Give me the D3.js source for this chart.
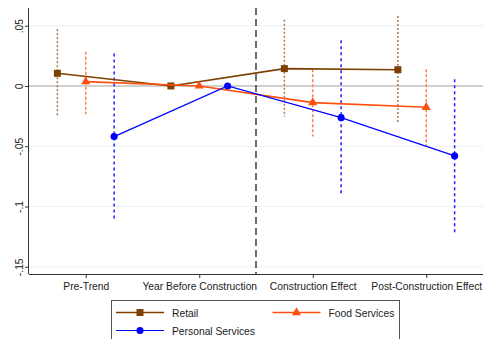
<!DOCTYPE html>
<html><head><meta charset="utf-8">
<script src="https://cdn.jsdelivr.net/npm/d3@7"></script>
<style>body{margin:0;background:#fff}svg{display:block;font-family:"Liberation Sans",Arial,sans-serif}</style>
</head><body><svg id="c" width="484" height="339"></svg>
<script>
const categories = ["Pre-Trend","Year Before Construction","Construction Effect","Post-Construction Effect"];
const seriesNames = ["Retail","Food Services","Personal Services"];
const retailEst = [0.0105, 0, 0.0144, 0.0135];
const retailLo  = [-0.026, null, -0.0254, -0.031];
const retailHi  = [0.047, null, 0.055, 0.058];
const foodEst = [0.0036, 0, -0.0138, -0.0177];
const foodLo  = [-0.0235, null, -0.042, -0.050];
const foodHi  = [0.0285, null, 0.0138, 0.0138];
const persEst = [-0.042, 0, -0.0263, -0.058];
const persLo  = [-0.1106, null, -0.0904, -0.123];
const persHi  = [0.027, null, 0.038, 0.0055];
const yTicks = [0.05, 0, -0.05, -0.1, -0.15];
const yTickLabels = [".05", "0", "-.05", "-.1", "-.15"];

const series = [
  {name: seriesNames[0], est: retailEst, lo: retailLo, hi: retailHi, off: -1, color: "#7f3f00", ci: "#a77b57", dash: "2,2", marker: "square"},
  {name: seriesNames[1], est: foodEst, lo: foodLo, hi: foodHi, off: 0, color: "#ff4f0f", ci: "#ff7f50", dash: "3,2", marker: "triangle"},
  {name: seriesNames[2], est: persEst, lo: persLo, hi: persHi, off: 1, color: "#0000ff", ci: "#1f1fff", dash: "3,3", marker: "circle"}
];

const FS = 10.3;
const svg = d3.select("#c");
const L = 29, R = 483, T = 8, B = 274;
const x = d3.scaleLinear().domain([0.5, 4.5]).range([L, R]);
const y = d3.scaleLinear().domain([-0.156, 0.0647]).range([B, T]);
const step = x(2) - x(1);
const px = (i, off) => x(i + 1) + off * step / 4;

// grid
svg.append("g").selectAll("line").data(yTicks.filter(v => v !== 0)).join("line")
  .attr("x1", L).attr("x2", R).attr("y1", d => y(d)).attr("y2", d => y(d))
  .attr("stroke", "#eaf2f3").attr("stroke-width", 1);
svg.append("line").attr("x1", L).attr("x2", R).attr("y1", y(0)).attr("y2", y(0))
  .attr("stroke", "#c0c0c0").attr("stroke-width", 1.5);

// y axis
const yAxis = d3.axisLeft(y).tickValues(yTicks).tickSize(4).tickFormat((d, i) => yTickLabels[i]);
const gy = svg.append("g").attr("transform", `translate(${L},0)`).call(yAxis);
gy.select(".domain").attr("d", `M-0.5,${T}V${B}`).attr("stroke", "#333");
gy.selectAll(".tick line").attr("stroke", "#333");
gy.selectAll(".tick text").attr("font-size", FS).attr("fill", "#222")
  .attr("text-anchor", "middle").attr("transform", "rotate(-90)")
  .attr("dy", null).attr("x", 0).attr("y", -6.5);

// x axis
const xAxis = d3.axisBottom(x).tickValues([1,2,3,4]).tickSize(4).tickFormat((d) => categories[d - 1]);
const gx = svg.append("g").attr("transform", `translate(0,${B})`).call(xAxis);
gx.select(".domain").attr("d", `M${L},0.5H${R}`).attr("stroke", "#333");
gx.selectAll(".tick line").attr("stroke", "#333");
gx.selectAll(".tick text").attr("font-size", FS).attr("fill", "#222").attr("y", 9);

// vertical dashed line
svg.append("line").attr("x1", x(2.5)).attr("x2", x(2.5)).attr("y1", T).attr("y2", B)
  .attr("stroke", "#222").attr("stroke-width", 1.3).attr("stroke-dasharray", "7,4");

// CIs
series.forEach(s => {
  const g = svg.append("g");
  s.est.forEach((v, i) => {
    if (s.lo[i] === null) return;
    g.append("line").attr("x1", px(i, s.off)).attr("x2", px(i, s.off))
      .attr("y1", y(s.hi[i])).attr("y2", y(s.lo[i]))
      .attr("stroke", s.ci).attr("stroke-width", 1.5).attr("stroke-dasharray", s.dash);
  });
});

const sym = {square: d3.symbolSquare, triangle: d3.symbolTriangle, circle: d3.symbolCircle};
const size = {square: 49, triangle: 36, circle: 40};
// lines + markers
series.forEach(s => {
  const line = d3.line().x((d, i) => px(i, s.off)).y(d => y(d));
  svg.append("path").attr("d", line(s.est)).attr("fill", "none")
    .attr("stroke", s.color).attr("stroke-width", s.marker === "circle" ? 1.2 : 1.6);
  svg.append("g").selectAll("path").data(s.est).join("path")
    .attr("transform", (d, i) => `translate(${px(i, s.off)},${y(d)})`)
    .attr("d", d3.symbol().type(sym[s.marker]).size(size[s.marker]))
    .attr("fill", s.color);
});

// legend
const lg = svg.append("g");
lg.append("rect").attr("x", 111.5).attr("y", 300.5).attr("width", 288).attr("height", 50)
  .attr("fill", "#fff").attr("stroke", "#555").attr("stroke-width", 1);
const legPos = [[116, 312.5], [272.5, 312.5], [116, 330.5]];
series.forEach((s, k) => {
  const [lx, ly] = legPos[k];
  lg.append("line").attr("x1", lx).attr("x2", lx + 48).attr("y1", ly).attr("y2", ly)
    .attr("stroke", s.color).attr("stroke-width", s.marker === "circle" ? 1.2 : 1.6);
  lg.append("path").attr("transform", `translate(${lx + 24},${ly})`)
    .attr("d", d3.symbol().type(sym[s.marker]).size(size[s.marker])).attr("fill", s.color);
  lg.append("text").attr("x", lx + 56).attr("y", ly + 4).attr("font-size", FS)
    .attr("fill", "#222").text(s.name);
});
</script></body></html>
